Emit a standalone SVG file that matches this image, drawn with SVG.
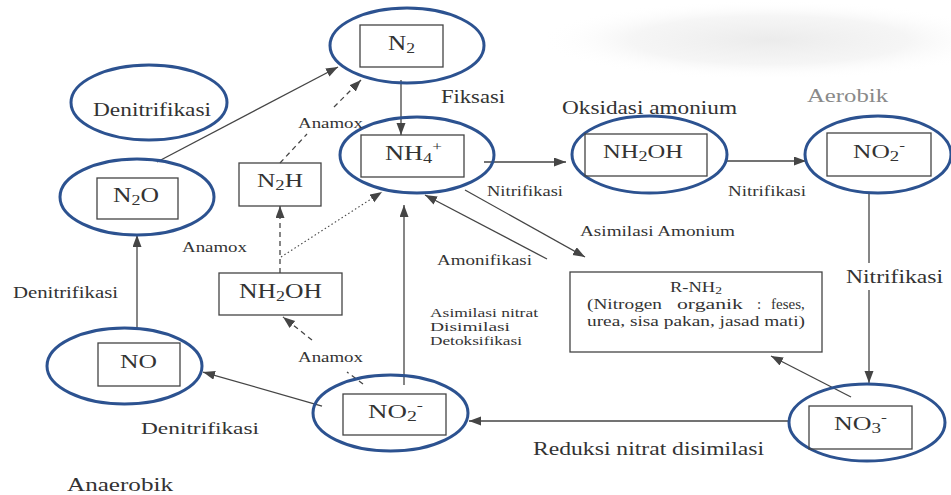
<svg xmlns="http://www.w3.org/2000/svg" width="951" height="495" viewBox="0 0 951 495">
<defs>
<marker id="ah" markerWidth="13" markerHeight="10" refX="12" refY="4.5" orient="auto" markerUnits="userSpaceOnUse">
<path d="M0,0 L12,4.5 L0,9 z" fill="#454545"/>
</marker>
<radialGradient id="smudge" cx="0.5" cy="0.5" r="0.5">
<stop offset="0" stop-color="#e9e9e9" stop-opacity="0.9"/>
<stop offset="0.6" stop-color="#efefef" stop-opacity="0.6"/>
<stop offset="1" stop-color="#ffffff" stop-opacity="0"/>
</radialGradient>
<style>
.ell{fill:none;stroke:#2c5290;stroke-width:3}
.box{fill:none;stroke:#444;stroke-width:1.3}
.t{font-family:"Liberation Serif","Times New Roman",serif;fill:#333}
.c{stroke:#454545;stroke-width:1.3;fill:none}
.dash{stroke-dasharray:5,4}
.dot{stroke-dasharray:1.5,2.5;stroke-width:1.1}
</style>
</defs>
<rect x="0" y="0" width="951" height="495" fill="#ffffff"/>
<ellipse cx="770" cy="40" rx="230" ry="40" fill="url(#smudge)"/>

<g id="connectors">
<line class="c" x1="157" y1="162" x2="338" y2="67" marker-end="url(#ah)"/>
<line class="c dash" x1="280" y1="163" x2="307" y2="134"/>
<line class="c dash" x1="334" y1="107" x2="361" y2="80" marker-end="url(#ah)"/>
<line class="c" x1="401" y1="80" x2="401" y2="135" marker-end="url(#ah)"/>
<line class="c" x1="484" y1="162" x2="566" y2="162" marker-end="url(#ah)"/>
<line class="c" x1="727" y1="161" x2="806" y2="161" marker-end="url(#ah)"/>
<line class="c" x1="869" y1="193" x2="869" y2="263"/>
<line class="c" x1="869" y1="290" x2="869" y2="383" marker-end="url(#ah)"/>
<line class="c" x1="851" y1="397" x2="771" y2="356" marker-end="url(#ah)"/>
<line class="c" x1="789" y1="421" x2="469" y2="421" marker-end="url(#ah)"/>
<line class="c" x1="322" y1="406" x2="203" y2="372" marker-end="url(#ah)"/>
<line class="c" x1="137" y1="328" x2="137" y2="235" marker-end="url(#ah)"/>
<line class="c" x1="404" y1="385" x2="404" y2="205" marker-end="url(#ah)"/>
<line class="c dash" x1="363" y1="384" x2="347" y2="372"/>
<line class="c dash" x1="312" y1="340" x2="283" y2="317" marker-end="url(#ah)"/>
<line class="c dash" x1="280" y1="273" x2="280" y2="206" marker-end="url(#ah)"/>
<line class="c dot" x1="281" y1="257" x2="382" y2="192" marker-end="url(#ah)"/>
<line class="c" x1="465" y1="190" x2="585" y2="257" marker-end="url(#ah)"/>
<line class="c" x1="547" y1="259" x2="425" y2="195" marker-end="url(#ah)"/>
</g>

<g id="node-n2">
<ellipse class="ell" cx="407" cy="45.5" rx="77" ry="37.5"/>
<rect class="box" x="360" y="25" width="83" height="42"/>
<text class="t" x="388" y="50" font-size="20" textLength="27" lengthAdjust="spacingAndGlyphs">N<tspan font-size="14" dy="3">2</tspan></text>
</g>

<g id="node-denitrifikasi">
<ellipse class="ell" cx="149" cy="102.5" rx="78" ry="37.5"/>
<text class="t" x="93" y="116" font-size="18" textLength="118" lengthAdjust="spacingAndGlyphs">Denitrifikasi</text>
</g>

<g id="node-n2o">
<ellipse class="ell" cx="137" cy="197" rx="77" ry="38"/>
<rect class="box" x="97" y="178" width="81" height="41"/>
<text class="t" x="113" y="202" font-size="20" textLength="46" lengthAdjust="spacingAndGlyphs">N<tspan font-size="14" dy="3">2</tspan><tspan dy="-3">O</tspan></text>
</g>

<g id="node-nh4">
<ellipse class="ell" cx="417" cy="155" rx="77" ry="38"/>
<rect class="box" x="361" y="135" width="103" height="42"/>
<text class="t" x="385" y="160" font-size="20" textLength="57" lengthAdjust="spacingAndGlyphs">NH<tspan font-size="14" dy="3">4</tspan><tspan font-size="13" dy="-12">+</tspan></text>
</g>

<g id="node-nh2oh-right">
<ellipse class="ell" cx="649.5" cy="154.5" rx="77.5" ry="38.5"/>
<rect class="box" x="585" y="134" width="122" height="42"/>
<text class="t" x="603" y="158" font-size="19" textLength="80" lengthAdjust="spacingAndGlyphs">NH<tspan font-size="14" dy="3">2</tspan><tspan dy="-3">OH</tspan></text>
</g>

<g id="node-no2-top">
<ellipse class="ell" cx="878" cy="154.5" rx="73" ry="38.5"/>
<rect class="box" x="827" y="133" width="104" height="43"/>
<text class="t" x="853" y="158" font-size="19" textLength="52" lengthAdjust="spacingAndGlyphs">NO<tspan font-size="14" dy="3">2</tspan><tspan font-size="13" dy="-11">-</tspan></text>
</g>

<g id="node-n2h">
<rect class="box" x="239" y="163" width="82" height="43"/>
<text class="t" x="257" y="187" font-size="19" textLength="46" lengthAdjust="spacingAndGlyphs">N<tspan font-size="14" dy="3">2</tspan><tspan dy="-3">H</tspan></text>
</g>

<g id="node-nh2oh-left">
<rect class="box" x="219" y="273" width="123" height="42"/>
<text class="t" x="239" y="298" font-size="20" textLength="83" lengthAdjust="spacingAndGlyphs">NH<tspan font-size="14" dy="3">2</tspan><tspan dy="-3">OH</tspan></text>
</g>

<g id="node-no">
<ellipse class="ell" cx="124.5" cy="366" rx="77.5" ry="38"/>
<rect class="box" x="98" y="343" width="82" height="43"/>
<text class="t" x="120" y="368" font-size="19" textLength="37" lengthAdjust="spacingAndGlyphs">NO</text>
</g>

<g id="node-no2-bottom">
<ellipse class="ell" cx="390.5" cy="413" rx="77.5" ry="38"/>
<rect class="box" x="343" y="394" width="103" height="41"/>
<text class="t" x="368" y="418" font-size="19" textLength="55" lengthAdjust="spacingAndGlyphs">NO<tspan font-size="14" dy="3">2</tspan><tspan font-size="13" dy="-11">-</tspan></text>
</g>

<g id="node-no3">
<ellipse class="ell" cx="867" cy="422.5" rx="78" ry="38.5"/>
<rect class="box" x="809" y="406" width="103" height="43"/>
<text class="t" x="834" y="430" font-size="19" textLength="53" lengthAdjust="spacingAndGlyphs">NO<tspan font-size="14" dy="3">3</tspan><tspan font-size="13" dy="-11">-</tspan></text>
</g>

<g id="node-rnh2">
<rect class="box" x="570" y="272" width="252" height="80"/>
<text class="t" x="670" y="292" font-size="15" textLength="52" lengthAdjust="spacingAndGlyphs">R-NH<tspan font-size="11" dy="2">2</tspan></text>
<text class="t" y="309" font-size="15"><tspan x="587" textLength="75" lengthAdjust="spacingAndGlyphs">(Nitrogen</tspan><tspan x="677" textLength="66" lengthAdjust="spacingAndGlyphs">organik</tspan><tspan x="757">:</tspan><tspan x="771">feses,</tspan></text>
<text class="t" x="587" y="326" font-size="15" textLength="218" lengthAdjust="spacingAndGlyphs">urea, sisa pakan, jasad mati)</text>
</g>

<g id="labels">
<text class="t" x="441" y="103" font-size="18" textLength="64" lengthAdjust="spacingAndGlyphs">Fiksasi</text>
<text class="t" x="562" y="114" font-size="18" textLength="175" lengthAdjust="spacingAndGlyphs">Oksidasi amonium</text>
<text class="t" x="807" y="102" font-size="18" textLength="81" lengthAdjust="spacingAndGlyphs" style="fill:#8a8a8a">Aerobik</text>
<text class="t" x="298" y="128" font-size="15" textLength="65" lengthAdjust="spacingAndGlyphs">Anamox</text>
<text class="t" x="487" y="196" font-size="14" textLength="76" lengthAdjust="spacingAndGlyphs">Nitrifikasi</text>
<text class="t" x="728" y="196" font-size="14" textLength="78" lengthAdjust="spacingAndGlyphs">Nitrifikasi</text>
<text class="t" x="580" y="236" font-size="14" textLength="155" lengthAdjust="spacingAndGlyphs">Asimilasi Amonium</text>
<text class="t" x="182" y="252" font-size="14" textLength="65" lengthAdjust="spacingAndGlyphs">Anamox</text>
<text class="t" x="437" y="265" font-size="14" textLength="95" lengthAdjust="spacingAndGlyphs">Amonifikasi</text>
<text class="t" x="13" y="298" font-size="16" textLength="105" lengthAdjust="spacingAndGlyphs">Denitrifikasi</text>
<text class="t" x="430" y="317" font-size="13" textLength="108" lengthAdjust="spacingAndGlyphs">Asimilasi nitrat</text>
<text class="t" x="430" y="331" font-size="13" textLength="80" lengthAdjust="spacingAndGlyphs">Disimilasi</text>
<text class="t" x="430" y="345" font-size="13" textLength="92" lengthAdjust="spacingAndGlyphs">Detoksifikasi</text>
<text class="t" x="298" y="362" font-size="15" textLength="65" lengthAdjust="spacingAndGlyphs">Anamox</text>
<text class="t" x="846" y="283" font-size="18" textLength="97" lengthAdjust="spacingAndGlyphs">Nitrifikasi</text>
<text class="t" x="141" y="434" font-size="17" textLength="118" lengthAdjust="spacingAndGlyphs">Denitrifikasi</text>
<text class="t" x="533" y="455" font-size="18" textLength="231" lengthAdjust="spacingAndGlyphs">Reduksi nitrat disimilasi</text>
<text class="t" x="67" y="491" font-size="18" textLength="106" lengthAdjust="spacingAndGlyphs">Anaerobik</text>
</g>
</svg>
